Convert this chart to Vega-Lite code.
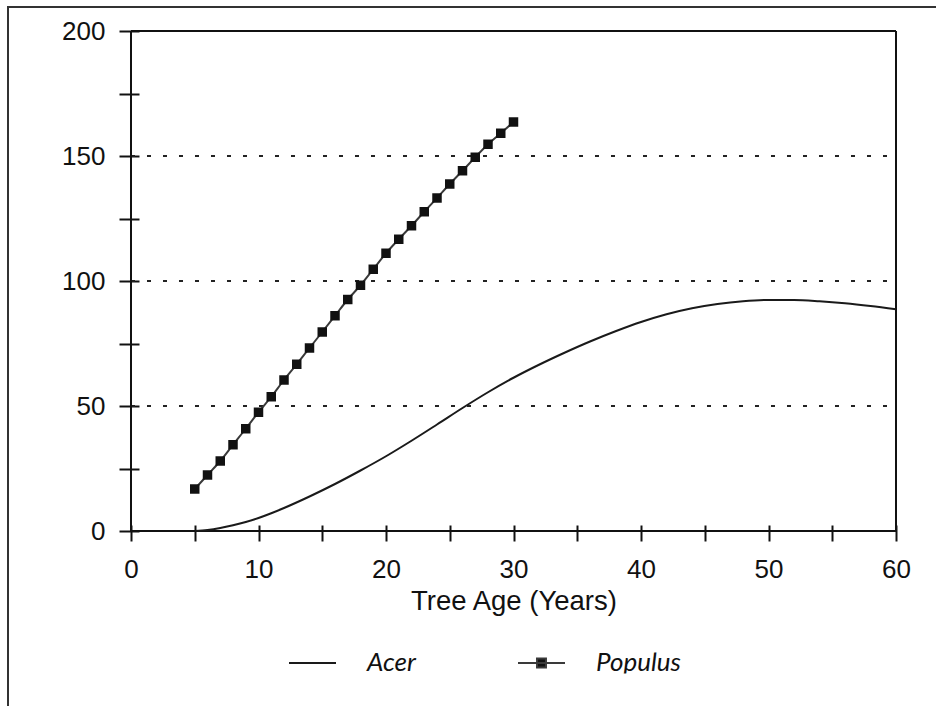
{
  "$schema": "https://vega.github.io/schema/vega-lite/v6.json",
  "width": 928,
  "height": 699,
  "autosize": {"type": "none"},
  "padding": {"left": 8, "top": 7, "right": 0, "bottom": 0},
  "background": "white",
  "config": {
    "view": {"stroke": "#333333", "strokeWidth": 2, "strokeDash": [928, 1627, 699], "fill": "white"},
    "axis": {
      "labelFont": "Liberation Sans, Arial", "labelFontSize": 26, "labelColor": "#111111",
      "titleFont": "Liberation Sans, Arial", "titleFontSize": 27.5, "titleFontWeight": "normal", "titleColor": "#111111",
      "tickColor": "#111111", "tickWidth": 2, "domain": false, "grid": false
    }
  },
  "datasets": {
    "growth": [
      {"series": "Acer", "age": 5, "value": 0},
      {"series": "Acer", "age": 6, "value": 0.4},
      {"series": "Acer", "age": 7, "value": 1.2},
      {"series": "Acer", "age": 8, "value": 2.3},
      {"series": "Acer", "age": 9, "value": 3.6},
      {"series": "Acer", "age": 10, "value": 5.2},
      {"series": "Acer", "age": 11, "value": 7.1},
      {"series": "Acer", "age": 12, "value": 9.2},
      {"series": "Acer", "age": 14, "value": 13.8},
      {"series": "Acer", "age": 16, "value": 18.8},
      {"series": "Acer", "age": 18, "value": 24.2},
      {"series": "Acer", "age": 20, "value": 29.9},
      {"series": "Acer", "age": 22, "value": 36.1},
      {"series": "Acer", "age": 24, "value": 42.6},
      {"series": "Acer", "age": 26, "value": 49.2},
      {"series": "Acer", "age": 28, "value": 55.5},
      {"series": "Acer", "age": 30, "value": 61.3},
      {"series": "Acer", "age": 32, "value": 66.5},
      {"series": "Acer", "age": 34, "value": 71.3},
      {"series": "Acer", "age": 36, "value": 75.8},
      {"series": "Acer", "age": 38, "value": 79.9},
      {"series": "Acer", "age": 40, "value": 83.6},
      {"series": "Acer", "age": 42, "value": 86.7},
      {"series": "Acer", "age": 44, "value": 89.1},
      {"series": "Acer", "age": 46, "value": 90.8},
      {"series": "Acer", "age": 48, "value": 91.9},
      {"series": "Acer", "age": 50, "value": 92.4},
      {"series": "Acer", "age": 52, "value": 92.4},
      {"series": "Acer", "age": 54, "value": 91.9},
      {"series": "Acer", "age": 56, "value": 91.1},
      {"series": "Acer", "age": 58, "value": 90.0},
      {"series": "Acer", "age": 60, "value": 88.7},
      {"series": "Populus", "age": 5, "value": 16.8},
      {"series": "Populus", "age": 6, "value": 22.4},
      {"series": "Populus", "age": 7, "value": 28.0},
      {"series": "Populus", "age": 8, "value": 34.5},
      {"series": "Populus", "age": 9, "value": 40.9},
      {"series": "Populus", "age": 10, "value": 47.5},
      {"series": "Populus", "age": 11, "value": 53.7},
      {"series": "Populus", "age": 12, "value": 60.4},
      {"series": "Populus", "age": 13, "value": 66.7},
      {"series": "Populus", "age": 14, "value": 73.2},
      {"series": "Populus", "age": 15, "value": 79.6},
      {"series": "Populus", "age": 16, "value": 86.1},
      {"series": "Populus", "age": 17, "value": 92.6},
      {"series": "Populus", "age": 18, "value": 98.3},
      {"series": "Populus", "age": 19, "value": 104.7},
      {"series": "Populus", "age": 20, "value": 111.1},
      {"series": "Populus", "age": 21, "value": 116.7},
      {"series": "Populus", "age": 22, "value": 122.1},
      {"series": "Populus", "age": 23, "value": 127.7},
      {"series": "Populus", "age": 24, "value": 133.2},
      {"series": "Populus", "age": 25, "value": 138.8},
      {"series": "Populus", "age": 26, "value": 144.1},
      {"series": "Populus", "age": 27, "value": 149.5},
      {"series": "Populus", "age": 28, "value": 154.7},
      {"series": "Populus", "age": 29, "value": 159.1},
      {"series": "Populus", "age": 30, "value": 163.6}
    ],
    "gridlines": [{"level": 50}, {"level": 100}, {"level": 150}],
    "vframe": [{"at": 0}, {"at": 60}],
    "hframe": [{"at": 0}, {"at": 200}]
  },
  "layer": [
    {
      "data": {"name": "gridlines"},
      "mark": {"type": "rule", "strokeDash": [4, 12], "strokeWidth": 2, "color": "#222222"},
      "encoding": {
        "y": {"field": "level", "type": "quantitative", "title": null},
        "x": {"datum": 0, "type": "quantitative"},
        "x2": {"datum": 60}
      }
    },
    {
      "data": {"name": "vframe"},
      "mark": {"type": "rule", "strokeWidth": 2, "color": "#111111"},
      "encoding": {
        "x": {"field": "at", "type": "quantitative", "title": "Tree Age (Years)"},
        "y": {"datum": 0, "type": "quantitative"},
        "y2": {"datum": 200}
      }
    },
    {
      "data": {"name": "hframe"},
      "mark": {"type": "rule", "strokeWidth": 2, "color": "#111111"},
      "encoding": {
        "y": {"field": "at", "type": "quantitative", "title": null},
        "x": {"datum": 0, "type": "quantitative"},
        "x2": {"datum": 60}
      }
    },
    {
      "data": {"name": "growth"},
      "mark": {"type": "line", "strokeWidth": 2, "interpolate": "monotone"},
      "encoding": {
        "x": {
          "field": "age", "type": "quantitative", "title": "Tree Age (Years)",
          "scale": {"domain": [-9.647, 63.137], "nice": false, "zero": false},
          "axis": {
            "orient": "bottom",
            "values": [0, 5, 10, 15, 20, 25, 30, 35, 40, 45, 50, 55, 60],
            "labelExpr": "datum.value % 10 === 0 ? datum.label : ''",
            "offset": -181, "tickSize": 16, "labelPadding": 15,
            "labelOverlap": false, "labelFlush": false,
            "titleX": 505.5, "titleY": 62,
            "titleBaseline": "top", "titleAlign": "center"
          }
        },
        "y": {
          "field": "value", "type": "quantitative", "title": null,
          "scale": {"domain": [-70, 209.6], "nice": false, "zero": false},
          "axis": {
            "orient": "left",
            "values": [0, 25, 50, 75, 100, 125, 150, 175, 200],
            "labelExpr": "datum.value % 50 === 0 ? datum.label : ''",
            "offset": -131, "tickSize": 20, "labelPadding": 14,
            "labelOverlap": false, "labelFlush": false
          }
        },
        "color": {
          "field": "series", "type": "nominal",
          "scale": {"domain": ["Acer", "Populus"], "range": ["#1a1a1a", "#3a3a3a"]},
          "legend": {
            "title": null,
            "orient": "none", "legendX": 280, "legendY": 645.5,
            "direction": "horizontal",
            "padding": 0, "rowPadding": 0, "columnPadding": 29,
            "symbolSize": 2209, "symbolStrokeWidth": 2, "clipHeight": 21,
            "labelOffset": 30, "labelFont": "Lato", "labelFontStyle": "italic",
            "labelFontSize": 26, "labelColor": "#111111",
            "encode": {
              "entries": {
                "update": {
                  "clip": {"value": true},
                  "width": {"value": 200},
                  "height": {"value": 21}
                }
              },
              "symbols": {
                "update": {
                  "shape": {"signal": "datum.value === 'Populus' ? 'M-1,0H1M-0.19,-0.19H0.19V0.19H-0.19Z' : 'M-1,0H1'"},
                  "fill": {"value": "#111111"},
                  "stroke": {"value": "#111111"},
                  "strokeWidth": {"value": 2}
                }
              }
            }
          }
        }
      }
    },
    {
      "data": {"name": "growth"},
      "transform": [{"filter": "datum.series === 'Populus'"}],
      "mark": {"type": "point", "shape": "square", "filled": true, "size": 90, "color": "#111111", "opacity": 1},
      "encoding": {
        "x": {"field": "age", "type": "quantitative", "title": "Tree Age (Years)"},
        "y": {"field": "value", "type": "quantitative", "title": null}
      }
    }
  ]
}
